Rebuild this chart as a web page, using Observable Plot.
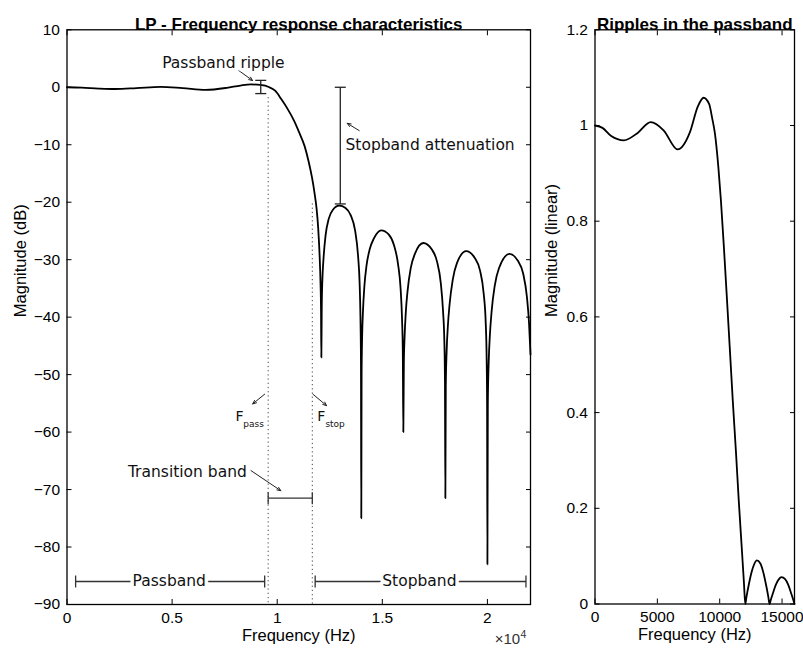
<!DOCTYPE html>
<html><head><meta charset="utf-8">
<script src="https://cdn.jsdelivr.net/npm/d3@7"></script>
<script src="https://cdn.jsdelivr.net/npm/@observablehq/plot@0.6"></script>
<style>
body{margin:0;background:#fff;}
#wrap{position:relative;width:803px;height:650px;overflow:hidden;}
#left{position:absolute;left:0;top:0;}
#right{position:absolute;left:550px;top:0;}
</style></head><body><div id="wrap"><div id="left"></div><div id="right"></div></div>
<script>
// ---------- data ----------
const lpFreq = [0,700,1500,2300,3300,4450,5500,6600,7600,8250,8750,9200,9600,9900,10200,10500,10800,11050,11300,11500,11650,11780,11870,11950,12020,12060,12085,12100,
  12120,12150,12200,12300,12450,12650,12950,13250,13500,13700,13850,13920,13960,13985,14000,
  14015,14040,14080,14150,14250,14400,14600,14950,15300,15550,15750,15870,15940,15975,16000,
  16025,16060,16120,16200,16350,16550,16950,17350,17600,17780,17890,17950,17980,18000,
  18020,18060,18120,18200,18350,18550,18990,19400,19650,19820,19920,19965,19985,20000,
  20020,20060,20120,20200,20350,20550,21050,21450,21700,21880,21980,22050];
const lpDb = [0,-0.07,-0.22,-0.3,-0.15,0.07,-0.15,-0.45,-0.1,0.3,0.5,0.4,0.05,-0.6,-2.1,-3.8,-5.8,-7.9,-10.2,-13,-15.6,-18.5,-21,-24.5,-29.5,-34,-39,-47,
  -38,-33.5,-30,-25.8,-22.9,-21.3,-20.6,-21.0,-22.3,-24.8,-29.5,-34,-40,-48,-75,
  -50,-43.5,-39,-34.5,-31,-28.2,-26.3,-24.9,-25.6,-27.4,-30.8,-35,-40.5,-46,-60,
  -48,-43.5,-39,-35.5,-31.5,-29,-27.1,-28.2,-30.3,-34,-39,-44,-51,-71.5,
  -52,-46,-41.5,-37.8,-33.5,-30.6,-28.5,-29.7,-31.9,-35.8,-41,-47.5,-55,-83,
  -55,-48,-43,-39,-34.5,-31.5,-29,-30.2,-32.4,-36.5,-41,-46.5];

const linFreq = [0,600,1300,2320,3400,4470,5500,6620,7600,8250,8710,9150,9400,9620,9890,10100,10350,10590,10820,11050,11300,11530,11800,11950,12050,12150,12300,12550,12750,12980,13250,13500,13750,13900,14000,14100,14250,14500,14750,14950,15250,15500,15750,15900,16000];
const linMag = [1.0,0.995,0.978,0.969,0.984,1.007,0.99,0.95,0.985,1.04,1.058,1.045,1.015,0.983,0.914,0.843,0.74,0.634,0.53,0.425,0.32,0.216,0.105,0.042,0,0.015,0.036,0.066,0.082,0.091,0.085,0.066,0.036,0.015,0,0.009,0.021,0.04,0.052,0.056,0.052,0.04,0.021,0.009,0];

const dbTicks = [10,0,-10,-20,-30,-40,-50,-60,-70,-80,-90];
const lpFreqTicks = [0,5000,10000,15000,20000];
const linTicks = [0,0.2,0.4,0.6,0.8,1,1.2];
const linFreqTicks = [0,5000,10000,15000];

const fPass = 9570, fStop = 11670;

// annotations
const centeredLabels = ["Passband ripple","Transition band","Passband","Stopband"];
const centeredX = [7440,5726,4864,16765];
const centeredY = [4.2,-66.9,-86,-86];
const startLabels = ["Stopband attenuation"];
const startX = [13249];
const startY = [-10.1];
const arrowX1 = [8176,13902,9404,11696,8752];
const arrowY1 = [2.9,-7.54,-53.4,-53.4,-66.7];
const arrowX2 = [8829,13330,8833,12349,10172];
const arrowY2 = [1.17,-6.27,-55.1,-55.4,-70.2];
const vBarX = [9217,13001];
const vBarTop = [1.2,0];
const vBarBottom = [-1.1,-20.3];
const hBarY = [-71.5,-86,-86];
const hBarX1 = [fPass,410,11806];
const hBarX2 = [fStop,9404,21834];
const fLabelX = [8013,11906];
const fSubX = [8385,12292];
const fSubText = ["pass","stop"];

// ---------- build ----------
const lp = lpFreq.map((f,i)=>({f, db: lpDb[i]}));
const lin = linFreq.map((f,i)=>({f, m: linMag[i]}));
const cNotes = centeredLabels.map((t,i)=>({t, x: centeredX[i], y: centeredY[i]}));
const sNotes = startLabels.map((t,i)=>({t, x: startX[i], y: startY[i]}));
const arrows = arrowX1.map((x,i)=>({x1:x, y1:arrowY1[i], x2:arrowX2[i], y2:arrowY2[i]}));
const vBars = vBarX.map((x,i)=>({x, y1:vBarTop[i], y2:vBarBottom[i]}));
const hBars = hBarY.map((y,i)=>({y, x1:hBarX1[i], x2:hBarX2[i]}));
const vCapPts = vBars.flatMap(d=>[{x:d.x,y:d.y1},{x:d.x,y:d.y2}]);
const hCapPts = hBars.flatMap(d=>[{x:d.x1,y:d.y},{x:d.x2,y:d.y}]);
const fLabels = fLabelX.map((x,i)=>({x, sx: fSubX[i], s: fSubText[i]}));

const hCap = {draw(ctx,size){const r=Math.sqrt(size/Math.PI);ctx.moveTo(-r,0);ctx.lineTo(r,0);}};
const vCap = {draw(ctx,size){const r=Math.sqrt(size/Math.PI);ctx.moveTo(0,-r);ctx.lineTo(0,r);}};

const baseStyle = {fontFamily:"Liberation Sans, Arial, sans-serif", fontSize:"15.5px", background:"white", color:"black", overflow:"visible"};
const annFont = "DejaVu Sans";
const annStyle = {fontFamily:annFont, fontSize:15.5, letterSpacing:"0.3px", fill:"#111", stroke:"white", strokeWidth:7};
const noText = () => "";

const left = Plot.plot({
  width: 550, height: 650,
  marginLeft: 66.5, marginRight: 20, marginTop: 29.3, marginBottom: 46,
  style: baseStyle,
  x: {domain:[0,22050]},
  y: {domain:[-90,10]},
  marks: [
    Plot.ruleX([fPass], {y1:-1.8, y2:-90, stroke:"#444", strokeWidth:1, strokeDasharray:"1.2,3"}),
    Plot.ruleX([fStop], {y1:-20.3, y2:-90, stroke:"#444", strokeWidth:1, strokeDasharray:"1.2,3"}),
    Plot.line(lp, {x:"f", y:"db", curve:"monotone-x", stroke:"black", strokeWidth:1.8}),
    Plot.link(vBars, {x1:"x", x2:"x", y1:"y1", y2:"y2", stroke:"#222", strokeWidth:1.3}),
    Plot.dot(vCapPts, {x:"x", y:"y", symbol:hCap, r:5.5, stroke:"#222", strokeWidth:1.3, fill:"none"}),
    Plot.link(hBars, {x1:"x1", x2:"x2", y1:"y", y2:"y", stroke:"#333", strokeWidth:1.3}),
    Plot.dot(hCapPts, {x:"x", y:"y", symbol:vCap, r:6, stroke:"#333", strokeWidth:1.3, fill:"none"}),
    Plot.arrow(arrows, {x1:"x1", y1:"y1", x2:"x2", y2:"y2", stroke:"#222", strokeWidth:1, headLength:6, headAngle:45}),
    Plot.text(cNotes, {x:"x", y:"y", text:"t", textAnchor:"middle", ...annStyle}),
    Plot.text(sNotes, {x:"x", y:"y", text:"t", textAnchor:"start", ...annStyle}),
    Plot.text(fLabels, {x:"x", y:-57.3, text:()=>"F", textAnchor:"start", fontFamily:annFont, fontSize:14, fill:"#111"}),
    Plot.text(fLabels, {x:"sx", y:-58.6, text:"s", textAnchor:"start", fontFamily:annFont, fontSize:9, fill:"#111"}),
    Plot.frame({stroke:"black", strokeWidth:1.3}),
    Plot.axisY(dbTicks, {anchor:"left", tickSize:-5, tickPadding:12, label:null, fontSize:15.5}),
    Plot.axisY(dbTicks, {anchor:"right", tickSize:-5, tickFormat:noText, label:null}),
    Plot.axisX(lpFreqTicks, {anchor:"bottom", tickSize:-5, tickPadding:12, tickFormat:d=>String(d/1e4), label:null, fontSize:15.5}),
    Plot.axisX(lpFreqTicks, {anchor:"top", tickSize:-5, tickFormat:noText, label:null}),
    Plot.text(["LP - Frequency response characteristics"], {frameAnchor:"top", dy:-12, text:d=>d, fontWeight:"bold", fontSize:17, letterSpacing:"0.9px"}),
    Plot.text(["Frequency (Hz)"], {frameAnchor:"bottom", dy:36, text:d=>d, fontSize:16.5, letterSpacing:"0.3px"}),
    Plot.text(["Magnitude (dB)"], {frameAnchor:"left", dx:-46, rotate:-90, text:d=>d, fontSize:16.5, letterSpacing:"0.3px"}),
    Plot.text(["\u00d710"], {frameAnchor:"bottom-right", dx:-10.4, dy:39, text:d=>d, textAnchor:"end", fontSize:15, fill:"#333"}),
    Plot.text(["4"], {frameAnchor:"bottom-right", dx:-10, dy:33, text:d=>d, textAnchor:"start", fontSize:10.5, fill:"#333"})
  ]
});
document.getElementById("left").appendChild(left);

const right = Plot.plot({
  width: 253, height: 650,
  marginLeft: 44.5, marginRight: 9, marginTop: 29.3, marginBottom: 46.5,
  style: baseStyle,
  x: {domain:[0,16000]},
  y: {domain:[0,1.2]},
  marks: [
    Plot.line(lin, {x:"f", y:"m", curve:"monotone-x", stroke:"black", strokeWidth:1.8}),
    Plot.frame({stroke:"black", strokeWidth:1.3}),
    Plot.axisY(linTicks, {anchor:"left", tickSize:-5, tickPadding:12, tickFormat:d=>String(d), label:null, fontSize:15.5}),
    Plot.axisY(linTicks, {anchor:"right", tickSize:-5, tickFormat:noText, label:null}),
    Plot.axisX(linFreqTicks, {anchor:"bottom", tickSize:-5, tickPadding:12, tickFormat:d=>String(d), label:null, fontSize:15.5}),
    Plot.axisX(linFreqTicks, {anchor:"top", tickSize:-5, tickFormat:noText, label:null}),
    Plot.text(["Ripples in the passband"], {frameAnchor:"top", dy:-12, text:d=>d, fontWeight:"bold", fontSize:17, letterSpacing:"0.7px"}),
    Plot.text(["Frequency (Hz)"], {frameAnchor:"bottom", dy:36, text:d=>d, fontSize:16.5, letterSpacing:"0.3px"}),
    Plot.text(["Magnitude (linear)"], {frameAnchor:"left", dx:-43.5, rotate:-90, text:d=>d, fontSize:16.5, letterSpacing:"0.3px"})
  ]
});
document.getElementById("right").appendChild(right);
</script></body></html>
